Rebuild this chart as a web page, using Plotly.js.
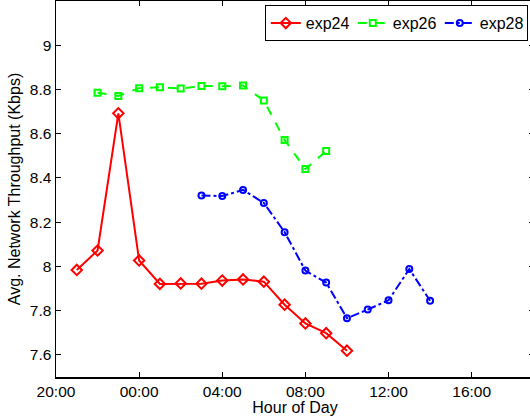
<!DOCTYPE html>
<html><head><meta charset="utf-8">
<script src="https://cdn.plot.ly/plotly-3.0.1.min.js"></script>
<style>html,body{margin:0;padding:0;overflow:hidden;background:#fff}</style>
</head><body><div id="chart"></div>
<script>
// hours counted from midnight of the first day (24 = 00:00 next day)
const hours24 = [21,22,23,24,25,26,27,28,29,30,31,32,33,34];
const exp24 = [7.984,8.072,8.692,8.027,7.921,7.923,7.922,7.936,7.941,7.931,7.827,7.742,7.698,7.619];
const hours26 = [22,23,24,25,26,27,28,29,30,31,32,33];
const exp26 = [8.785,8.771,8.806,8.810,8.804,8.816,8.815,8.818,8.750,8.572,8.440,8.522];
const hours28 = [27,28,29,30,31,32,33,34,35,36,37,38];
const exp28 = [8.321,8.318,8.346,8.287,8.155,7.981,7.927,7.766,7.805,7.847,7.988,7.845];
const tickVals = [20,24,28,32,36,40];
const tickText = ["20:00","00:00","04:00","08:00","12:00","16:00"];
const yTickVals = [7.6,7.8,8,8.2,8.4,8.6,8.8,9];

const font = "Liberation Sans, Arial, sans-serif";
const traces = [
  {x: hours24, y: exp24, name: "exp24", mode: "lines+markers",
   line: {color: "#ff0000", width: 2},
   marker: {symbol: "diamond-open", size: 8, color: "#ff0000", line: {width: 2}}},
  {x: hours26, y: exp26, name: "exp26", mode: "lines+markers",
   line: {color: "#00ff00", width: 2, dash: "dash"},
   marker: {symbol: "square-open", size: 6, color: "#00ff00", line: {width: 2}}},
  {x: hours28, y: exp28, name: "exp28", mode: "lines+markers",
   line: {color: "#0000ff", width: 2, dash: "dashdot"},
   marker: {symbol: "circle-open", size: 6, color: "#0000ff", line: {width: 2}}}
];
const layout = {
  width: 536, height: 416,
  margin: {l: 56, r: 2, t: 1, b: 39},
  paper_bgcolor: "#fff", plot_bgcolor: "#fff",
  font: {family: font, size: 16, color: "#000"},
  showlegend: true,
  legend: {orientation: "h", x: 0.987, xanchor: "right", y: 0.989, yanchor: "top",
           bordercolor: "#000", borderwidth: 1, bgcolor: "#fff",
           font: {family: font, size: 16}, itemwidth: 30, tracegroupgap: 0,
           entrywidth: 42, entrywidthmode: "pixels"},
  xaxis: {range: [20, 43], tickvals: tickVals, ticktext: tickText,
          showgrid: false, zeroline: false, showline: true, linecolor: "#000", linewidth: 1.5,
          mirror: "ticks", ticks: "inside", ticklen: 5, tickcolor: "#000",
          tickfont: {size: 15.5}, title: {text: "Hour of Day", font: {size: 16}, standoff: 1}},
  yaxis: {range: [7.5, 9.2], tickvals: yTickVals,
          showgrid: false, zeroline: false, showline: true, linecolor: "#000", linewidth: 1.5,
          mirror: "ticks", ticks: "inside", ticklen: 5, tickcolor: "#000",
          tickfont: {size: 15.5}, title: {text: "Avg. Network Throughput (Kbps)", font: {size: 16}, standoff: 5}}
};
Plotly.newPlot("chart", traces, layout, {displayModeBar: false, staticPlot: true});
</script></body></html>
